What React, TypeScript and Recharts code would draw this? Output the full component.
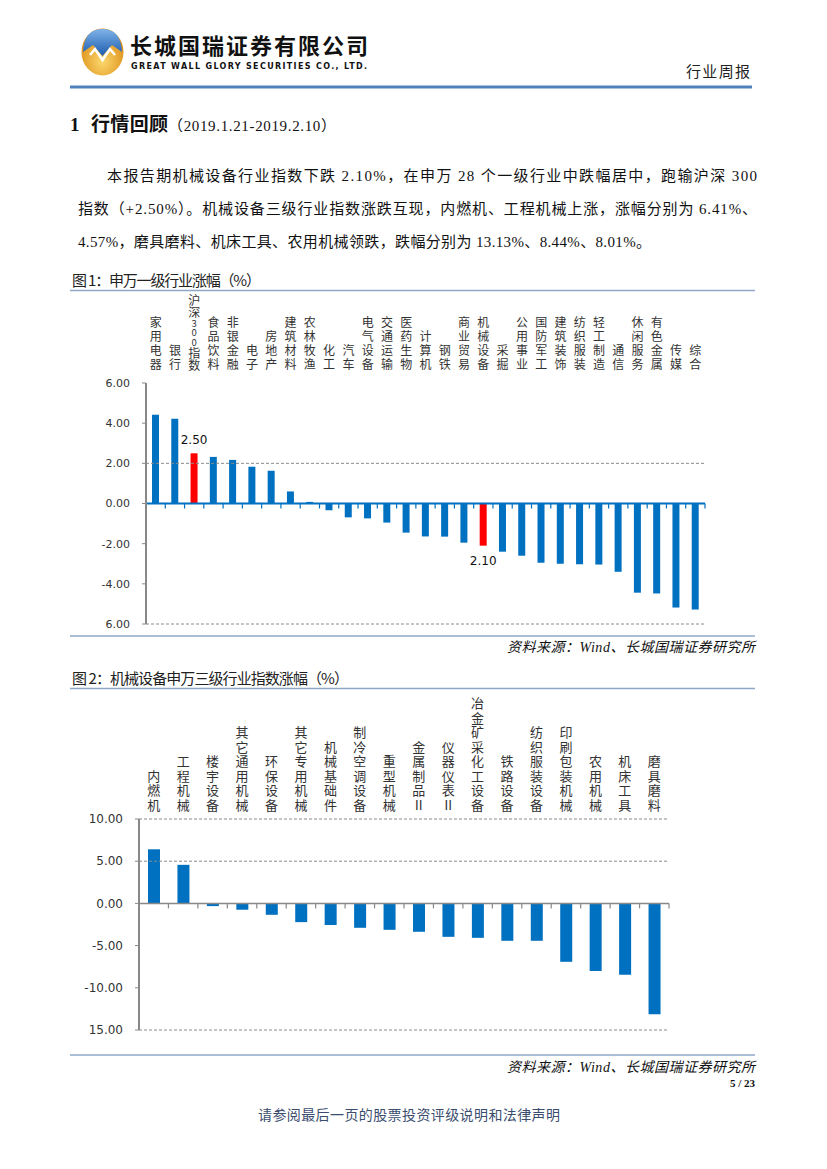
import { Bar, BarChart, Cell, LabelList, ReferenceLine, XAxis, YAxis } from "recharts"

// 图1：申万一级行业涨幅（%）
const industries = [
  '家用电器', '银行', '沪深300指数', '食品饮料', '非银金融', '电子', '房地产', '建筑材料', '农林牧渔', '化工',
  '汽车', '电气设备', '交通运输', '医药生物', '计算机', '钢铁', '商业贸易', '机械设备', '采掘', '公用事业',
  '国防军工', '建筑装饰', '纺织服装', '轻工制造', '通信', '休闲服务', '有色金属', '传媒', '综合',
]
const industryChange = [
  4.42, 4.22, 2.50, 2.32, 2.17, 1.83, 1.63, 0.60, 0.08, -0.33,
  -0.69, -0.74, -0.95, -1.45, -1.64, -1.65, -1.95, -2.10, -2.40, -2.60,
  -2.95, -3.00, -3.02, -3.04, -3.40, -4.44, -4.48, -5.18, -5.28,
]
const industryHighlights = ['沪深300指数', '机械设备']
const industryTicks = [6, 4, 2, 0, -2, -4, -6]
const industryGrid = [2, -6]

// 图2：机械设备申万三级行业指数涨幅（%）
const subIndustries = [
  '内燃机', '工程机械', '楼宇设备', '其它通用机械', '环保设备', '其它专用机械', '机械基础件', '制冷空调设备', '重型机械',
  '金属制品Ⅱ', '仪器仪表Ⅱ', '冶金矿采化工设备', '铁路设备', '纺织服装设备', '印刷包装机械', '农用机械', '机床工具', '磨具磨料',
]
const subChange = [6.41, 4.57, -0.32, -0.75, -1.35, -2.22, -2.57, -2.89, -3.13, -3.36, -3.96, -4.08, -4.43, -4.43, -6.92, -8.01, -8.44, -13.13]
const subTicks = [10, 5, 0, -5, -10, -15]
const subGrid = [10, 5, -15]

const BLUE = "#0070C0"
const RED = "#FF0000"
const CJK = '"Noto Sans CJK SC", sans-serif'
const SERIF = '"Liberation Serif", "Noto Sans CJK SC", serif'
const NUM = '"DejaVu Sans", sans-serif'

const industryData = industries.map((name, i) => ({ name, value: industryChange[i] }))
const subData = subIndustries.map((name, i) => ({ name, value: subChange[i] }))

// bottom label of the axis has no minus sign in the original
const axisFormatter = (min: number) => (v: number) => (v === min ? Math.abs(v) : v).toFixed(2)

// category names: one upright character per row, stacked upwards from the plot top
function VerticalTick(props: any) {
  const { x, y, payload, gap, pitch, fontSize } = props
  const chars: string[] = Array.from(String(payload.value))
  const isDigit = (c: string) => /[0-9]/.test(c)
  const hasDigits = chars.some(isDigit)
  const slot = (c: string) => (isDigit(c) ? 9.5 : hasDigits ? 12 : pitch)
  const size = (c: string) => (isDigit(c) ? 9.5 : fontSize)
  const tops: number[] = []
  let cur = y - gap
  for (let i = chars.length - 1; i >= 0; i--) {
    const s = slot(chars[i])
    cur -= s
    tops[i] = cur + (s - size(chars[i])) / 2
  }
  return (
    <g>
      {chars.map((c, i) => (
        <text key={i} x={x} y={tops[i]} fontSize={size(c)} fontFamily={CJK} fill="#333"
          style={{ writingMode: "vertical-rl", textOrientation: "upright" } as any}>{c}</text>
      ))}
    </g>
  )
}

const zeroAxis = (count: number, color: string, width: number) => (props: any) => {
  const { x1, y1, x2 } = props
  const stepX = (x2 - x1) / count
  const marks = []
  for (let i = 0; i <= count; i++) {
    marks.push(<line key={i} x1={x1 + i * stepX} x2={x1 + i * stepX} y1={y1} y2={y1 + 5} stroke={color} strokeWidth={1.2} />)
  }
  return (
    <g>
      <line x1={x1} y1={y1} x2={x2} y2={y1} stroke={color} strokeWidth={width} />
      {marks}
    </g>
  )
}

const highlightLabel = (names: string[], highlight: string[]) => (props: any) => {
  const { x, y, width, height, value, index } = props
  if (!highlight.includes(names[index])) return null
  const top = Math.min(y, y + height)
  const bottom = Math.max(y, y + height)
  const ty = value >= 0 ? top - 13 : bottom + 15
  return (
    <text x={x + width / 2} y={ty} textAnchor="middle" dominantBaseline="central" fontSize={12}
      fontFamily={NUM} fill="#111">{Math.abs(value).toFixed(2)}</text>
  )
}

function IndustryChart() {
  return (
    <BarChart width={690} height={340} data={industryData} margin={{ top: 0, right: 55, bottom: 8, left: 0 }}>
      <XAxis dataKey="name" orientation="top" height={91} interval={0} axisLine={false} tickLine={false}
        tickSize={0} tickMargin={0}
        tick={(p: any) => <VerticalTick {...p} gap={12} pitch={14} fontSize={12} />} />
      <YAxis domain={[-6, 6]} ticks={industryTicks} width={76} interval={0}
        axisLine={{ stroke: "#888", strokeWidth: 2 }} tickLine={{ stroke: "#888" }}
        tickSize={4} tickMargin={12} tickFormatter={axisFormatter(-6)}
        tick={{ fontSize: 11, fontFamily: NUM, fill: "#333" }} />
      {industryGrid.map(v => (
        <ReferenceLine key={v} y={v} stroke="#8a8a8a" strokeDasharray="3 2" />
      ))}
      <Bar dataKey="value" barSize={7} isAnimationActive={false}>
        {industryData.map(d => (
          <Cell key={d.name} fill={industryHighlights.includes(d.name) ? RED : BLUE} />
        ))}
        <LabelList dataKey="value" content={highlightLabel(industries, industryHighlights)} />
      </Bar>
      <ReferenceLine y={0} shape={zeroAxis(industries.length, BLUE, 2)} />
    </BarChart>
  )
}

function SubIndustryChart() {
  return (
    <BarChart width={690} height={350} data={subData} margin={{ top: 0, right: 91, bottom: 10, left: 0 }}>
      <XAxis dataKey="name" orientation="top" height={129} interval={0} axisLine={false} tickLine={false}
        tickSize={0} tickMargin={0}
        tick={(p: any) => <VerticalTick {...p} gap={7} pitch={14.5} fontSize={13} />} />
      <YAxis domain={[-15, 10]} ticks={subTicks} width={69} interval={0}
        axisLine={{ stroke: "#888", strokeWidth: 2 }} tickLine={{ stroke: "#888" }}
        tickSize={4} tickMargin={12} tickFormatter={axisFormatter(-15)}
        tick={{ fontSize: 12, fontFamily: NUM, fill: "#333" }} />
      {subGrid.map(v => (
        <ReferenceLine key={v} y={v} stroke="#8a8a8a" strokeDasharray="3 2" />
      ))}
      <Bar dataKey="value" barSize={12} fill={BLUE} isAnimationActive={false} />
      <ReferenceLine y={0} shape={zeroAxis(subIndustries.length, "#888", 1.5)} />
    </BarChart>
  )
}

function PageText() {
  const rule = "#8EA9C8"
  return (
    <svg width={827} height={1169} style={{ position: "absolute", left: 0, top: 0 }}>
      <defs>
        <radialGradient id="gold" cx="50%" cy="70%" r="65%">
          <stop offset="0%" stopColor="#FCD86E" />
          <stop offset="100%" stopColor="#D98910" />
        </radialGradient>
        <linearGradient id="cap" x1="0" y1="0" x2="0" y2="1">
          <stop offset="0%" stopColor="#7FB2E8" />
          <stop offset="100%" stopColor="#1D5DAE" />
        </linearGradient>
      </defs>
      {/* header */}
      <ellipse cx={102.5} cy={52} rx={21} ry={23.5} fill="url(#gold)" />
      <path d="M 83 52 Q 84 29 102.5 29 Q 121 29 122 52 L 112 45 L 102.5 56 L 93 45 Z" fill="url(#cap)" />
      <path d="M 90 55 L 95 49 L 102.5 60 L 110 49 L 115 55" fill="none" stroke="#fff" strokeWidth={2.5} />
      <text x={130} y={54} fontSize={22} fontWeight="bold" fontFamily={CJK} fill="#111" textLength={238}>长城国瑞证券有限公司</text>
      <text x={131} y={69} fontSize={8} fontWeight="bold" fontFamily={NUM} fill="#111" textLength={236}
        lengthAdjust="spacing">GREAT WALL GLORY SECURITIES CO., LTD.</text>
      <text x={686} y={77} fontSize={15} fontFamily={CJK} fill="#222" textLength={64}>行业周报</text>
      <line x1={70} y1={87} x2={752} y2={87} stroke="#4F81BD" strokeWidth={3} />

      {/* heading + paragraph */}
      <text x={70} y={131} fontSize={19} fontWeight="bold" fontFamily={SERIF} fill="#111">1</text>
      <text x={91} y={131} fontSize={19} fontWeight="bold" fontFamily={CJK} fill="#111" textLength={77}>行情回顾</text>
      <text x={168} y={131} fontSize={15} fontFamily={SERIF} fill="#111" textLength={168}>（2019.1.21-2019.2.10）</text>
      <text x={107} y={181} fontSize={15} fontFamily={SERIF} fill="#111" textLength={650} lengthAdjust="spacing">
        本报告期机械设备行业指数下跌 2.10%，在申万 28 个一级行业中跌幅居中，跑输沪深 300
      </text>
      <text x={78} y={214} fontSize={15} fontFamily={SERIF} fill="#111" textLength={679} lengthAdjust="spacing">
        指数（+2.50%）。机械设备三级行业指数涨跌互现，内燃机、工程机械上涨，涨幅分别为 6.41%、
      </text>
      <text x={78} y={247} fontSize={15} fontFamily={SERIF} fill="#111" textLength={573} lengthAdjust="spacing">
        4.57%，磨具磨料、机床工具、农用机械领跌，跌幅分别为 13.13%、8.44%、8.01%。
      </text>

      {/* figure 1 frame */}
      <text x={72} y={286} fontSize={15} fontFamily={CJK} fill="#222" textLength={189}>图 1：申万一级行业涨幅（%）</text>
      <line x1={70} y1={290.5} x2={755} y2={290.5} stroke={rule} strokeWidth={1.5} />
      <line x1={70} y1={636} x2={755} y2={636} stroke={rule} strokeWidth={1.5} />
      <text x={507} y={652} fontSize={14} fontStyle="italic" fontFamily={SERIF} fill="#111" textLength={248}>资料来源：Wind、长城国瑞证券研究所</text>

      {/* figure 2 frame */}
      <text x={72} y={684} fontSize={15} fontFamily={CJK} fill="#222" textLength={277}>图 2：机械设备申万三级行业指数涨幅（%）</text>
      <line x1={70} y1={688.5} x2={755} y2={688.5} stroke={rule} strokeWidth={1.5} />
      <line x1={70} y1={1055} x2={755} y2={1055} stroke={rule} strokeWidth={1.5} />
      <text x={507} y={1072} fontSize={14} fontStyle="italic" fontFamily={SERIF} fill="#111" textLength={248}>资料来源：Wind、长城国瑞证券研究所</text>

      {/* footer */}
      <text x={755} y={1087} fontSize={11} fontWeight="bold" fontFamily={SERIF} fill="#111" textAnchor="end">5 / 23</text>
      <text x={258} y={1120} fontSize={14} fontFamily={SERIF} fill="#3B4D6E" textLength={302}>请参阅最后一页的股票投资评级说明和法律声明</text>
    </svg>
  )
}

export default function App() {
  return (
    <div style={{ position: "absolute", left: 0, top: 0, width: 827, height: 1169, background: "#fff" }}>
      <PageText />
      <div style={{ position: "absolute", left: 70, top: 292 }}>
        <IndustryChart />
      </div>
      <div style={{ position: "absolute", left: 70, top: 690 }}>
        <SubIndustryChart />
      </div>
    </div>
  )
}
